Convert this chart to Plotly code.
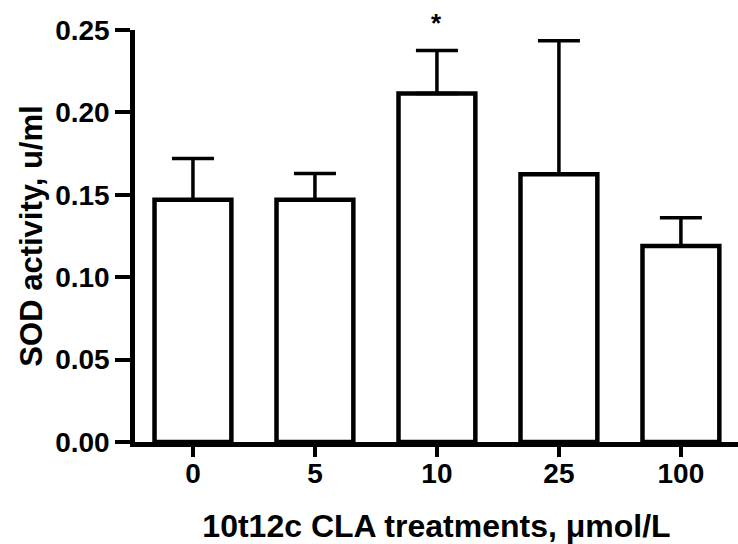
import plotly.graph_objects as go

categories = ["0", "5", "10", "25", "100"]
sod_mean = [0.147, 0.147, 0.2115, 0.1625, 0.119]
sod_err = [0.025, 0.016, 0.026, 0.081, 0.017]
y_ticks = [0.00, 0.05, 0.10, 0.15, 0.20, 0.25]
y_tick_labels = ["0.00", "0.05", "0.10", "0.15", "0.20", "0.25"]
sig_index = 2
sig_label = "*"

FONT = "Liberation Sans, Arial, sans-serif"

fig = go.Figure()
fig.add_trace(go.Bar(
    x=list(range(len(categories))),
    y=sod_mean,
    width=0.63,
    marker=dict(color="white", line=dict(color="black", width=4.5)),
    error_y=dict(type="data", array=sod_err, arrayminus=[0] * len(sod_err),
                 symmetric=False, color="black", thickness=3.5, width=21),
    showlegend=False,
))

fig.add_annotation(x=sig_index, y=1.018, xref="x", yref="paper",
                   text="<b>" + sig_label + "</b>", showarrow=False,
                   yanchor="middle",
                   font=dict(family=FONT, size=26, color="black"))

fig.update_layout(
    width=738, height=544,
    margin=dict(l=135, r=0, t=30, b=102),
    paper_bgcolor="white", plot_bgcolor="white",
    font=dict(family=FONT, color="black", weight="bold"),
)
fig.update_xaxes(
    range=[-0.475, 4.468],
    tickvals=list(range(len(categories))), ticktext=categories,
    showline=True, linecolor="black", linewidth=4.5,
    ticks="outside", ticklen=10, tickwidth=4, tickcolor="black",
    ticklabelstandoff=-7,
    tickfont=dict(family=FONT, size=28, weight="bold"),
    title=dict(text="10t12c CLA treatments, μmol/L",
               font=dict(family=FONT, size=32, weight="bold"), standoff=32),
    showgrid=False, zeroline=False,
)
fig.update_yaxes(
    range=[0, 0.25],
    tickvals=y_ticks, ticktext=y_tick_labels,
    showline=True, linecolor="black", linewidth=4.5,
    ticks="outside", ticklen=15, tickwidth=4, tickcolor="black",
    tickfont=dict(family=FONT, size=28, weight="bold"),
    title=dict(text="SOD activity, u/ml",
               font=dict(family=FONT, size=31, weight="bold"), standoff=5),
    showgrid=False, zeroline=False,
)

fig.write_html("out.html", config={"displayModeBar": False})
with open("out.html", "r", encoding="utf-8") as f:
    html = f.read()
html = html.replace("<head>", "<head><style>html,body{margin:0;padding:0;}</style>", 1)
with open("out.html", "w", encoding="utf-8") as f:
    f.write(html)
